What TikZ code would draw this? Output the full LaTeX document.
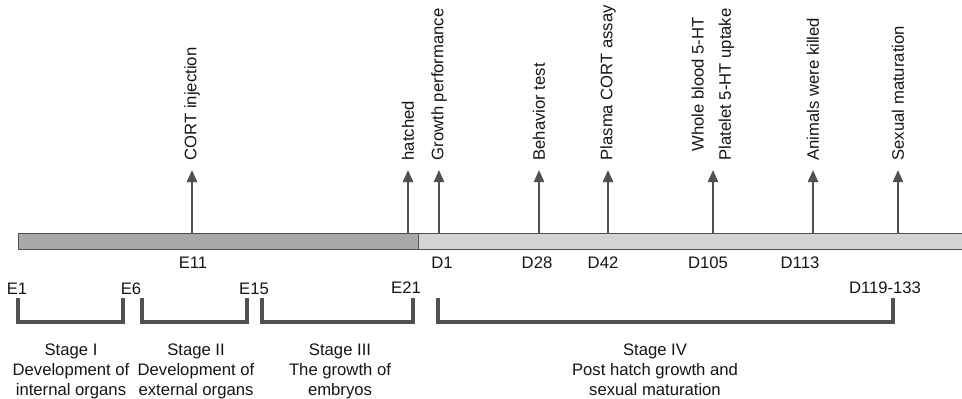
\documentclass[tikz,border=0pt]{standalone}
\usepackage{fontspec}
\setmainfont{Liberation Sans}
\usepackage{xcolor}
\usetikzlibrary{arrows.meta}

\definecolor{tickgray}{HTML}{505050}
\definecolor{eggbar}{HTML}{A9A9A9}
\definecolor{chickbar}{HTML}{D4D4D4}
\definecolor{inkgray}{HTML}{151515}

\tikzset{
  txt/.style={text=inkgray, font=\fontsize{12.5}{15}\selectfont},
  event/.style={txt, rotate=90, anchor=west, inner xsep=7pt, inner ysep=1pt},
  evarrow/.style={draw=tickgray, line width=1.6pt, -{Triangle[width=7.5pt,length=9pt]}},
  day/.style={txt, inner sep=1pt},
  stage/.style={txt, anchor=north, align=center},
  bracket/.style={draw=tickgray, line width=2.6pt, line join=miter},
}

\begin{document}
\begin{tikzpicture}[x=0.75pt,y=-0.75pt]
	\useasboundingbox (0,0) rectangle (962,399);
	% time bar
	\draw[tickgray, fill=eggbar] (18,233) rectangle (418,249);
	\draw[tickgray, fill=chickbar] (418,233) rectangle (964,249);

	% events above the bar
	\coordinate (cort)   at (192,233);
	\coordinate (hatch)  at (408,233);
	\coordinate (growth) at (439,233);
	\coordinate (behav)  at (539,233);
	\coordinate (plasma) at (608,233);
	\coordinate (blood)  at (713,233);
	\coordinate (killed) at (813,233);
	\coordinate (sexual) at (898,233);

	\node (cortlbl)   [event] at (192,170) {CORT injection};
	\node (hatchlbl)  [event] at (408,170) {hatched};
	\node (growthlbl) [event] at (439,170) {Growth performance};
	\node (behavlbl)  [event] at (539,170) {Behavior test};
	\node (plasmalbl) [event] at (608,170) {Plasma CORT assay};
	\node (bloodlbl)  [event, align=center, font=\fontsize{12.5}{20.5}\selectfont] at (713,170) {Whole blood 5-HT\\Platelet 5-HT uptake};
	\node (killedlbl) [event] at (813,170) {Animals were killed};
	\node (sexuallbl) [event] at (898,170) {Sexual maturation};

	\draw[evarrow] (cort) -- (cortlbl.west);
	\draw[evarrow] (hatch) -- (hatchlbl.west);
	\draw[evarrow] (growth) -- (growthlbl.west);
	\draw[evarrow] (behav) -- (behavlbl.west);
	\draw[evarrow] (plasma) -- (plasmalbl.west);
	\draw[evarrow] (blood) -- (bloodlbl.west);
	\draw[evarrow] (killed) -- (killedlbl.west);
	\draw[evarrow] (sexual) -- (sexuallbl.west);

	% days below the bar
	\node (e11)  [day] at (193,263) {E11};
	\node (d1)   [day] at (442,263) {D1};
	\node (d28)  [day] at (537,263) {D28};
	\node (d42)  [day] at (603,263) {D42};
	\node (d105) [day] at (708,263) {D105};
	\node (d113) [day] at (800,263) {D113};

	\node (e1)   [day] at (17,289)  {E1};
	\node (e6)   [day] at (131,289) {E6};
	\node (e15)  [day] at (254,289) {E15};
	\node (e21)  [day] at (406,288) {E21};
	\node (d119) [day] at (885,288) {D119-133};

	% stages
	\draw[bracket] (18,298) -- (18,322) -- (123,322) -- (123,298);
	\draw[bracket] (142,298) -- (142,322) -- (247,322) -- (247,298);
	\draw[bracket] (262,298) -- (262,322) -- (413,322) -- (413,298);
	\draw[bracket] (438,298) -- (438,322) -- (893,322) -- (893,298);

	\node (stage1) [stage] at (71,339)  {Stage I\\Development of\\internal organs};
	\node (stage2) [stage] at (196,339) {Stage II\\Development of\\external organs};
	\node (stage3) [stage] at (340,339) {Stage III\\The growth of\\embryos};
	\node (stage4) [stage] at (655,339) {Stage IV\\Post hatch growth and\\sexual maturation};
\end{tikzpicture}
\end{document}
